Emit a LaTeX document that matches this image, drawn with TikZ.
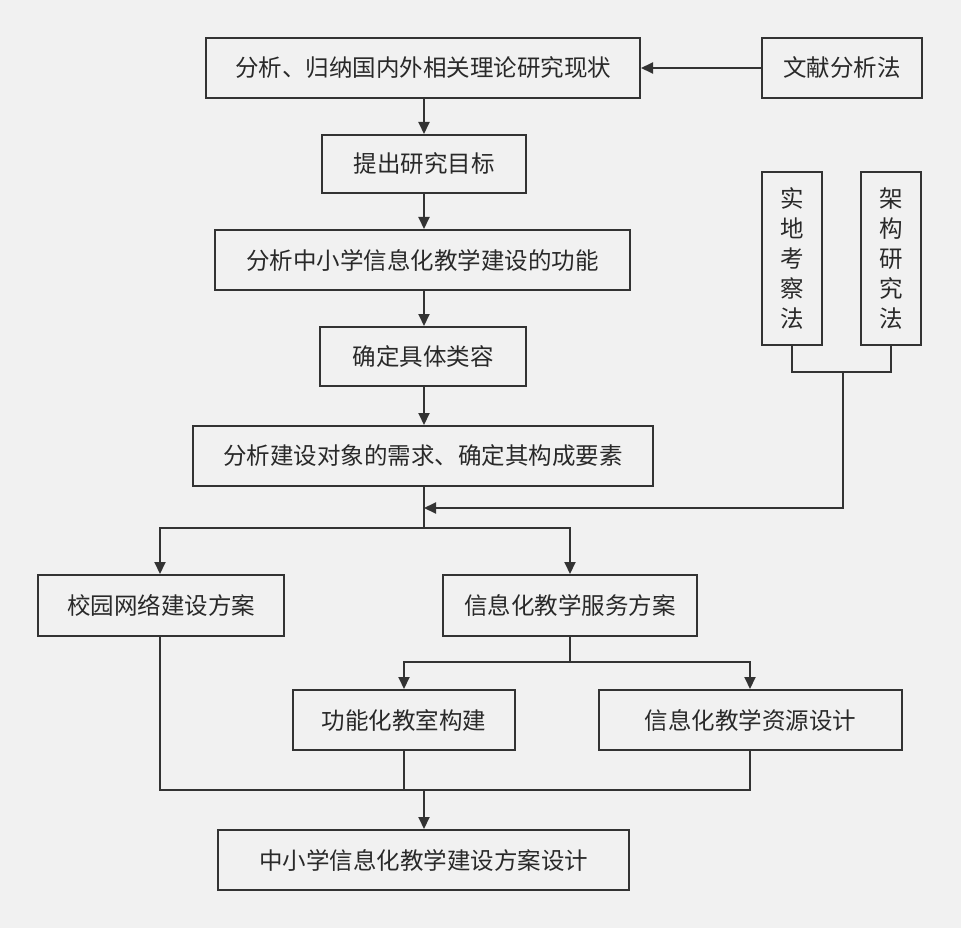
\documentclass[tikz,border=0pt]{standalone}
\usepackage{fontspec}
\setmainfont{Noto Sans CJK SC}
\usetikzlibrary{arrows.meta}
\definecolor{bg}{HTML}{F1F1F1}
\definecolor{ln}{HTML}{333333}
\begin{document}
\begin{tikzpicture}[x=1pt,y=-1pt,
  box/.style={draw=ln,line width=2pt,fill=bg,inner sep=0pt,font=\fontsize{23.5}{28}\selectfont,text=ln!80!black},
  con/.style={draw=ln,line width=2pt},
  arr/.style={con,-{Triangle[length=12pt,width=11pt]}}]
\fill[bg] (0,0) rectangle (961,928);
\useasboundingbox (0,0) rectangle (961,928);
\newcommand{\bx}[6]{\node[box,minimum width=#4-#2,minimum height=#5-#3,align=center] (#1) at ({(#2+#4)/2},{(#3+#5)/2}) {#6};}
\bx{a}{206}{38}{640}{98}{分析、归纳国内外相关理论研究现状}
\bx{b}{762}{38}{922}{98}{文献分析法}
\bx{c}{322}{135}{526}{193}{提出研究目标}
\bx{d}{215}{230}{630}{290}{分析中小学信息化教学建设的功能}
\bx{e}{320}{327}{526}{386}{确定具体类容}
\bx{f}{193}{426}{653}{486}{分析建设对象的需求、确定其构成要素}
\bx{g}{762}{172}{822}{345}{实\\[2pt]地\\[2pt]考\\[2pt]察\\[2pt]法}
\bx{h}{861}{172}{921}{345}{架\\[2pt]构\\[2pt]研\\[2pt]究\\[2pt]法}
\bx{i}{38}{575}{284}{636}{校园网络建设方案}
\bx{j}{443}{575}{697}{636}{信息化教学服务方案}
\bx{k}{293}{690}{515}{750}{功能化教室构建}
\bx{l}{599}{690}{902}{750}{信息化教学资源设计}
\bx{m}{218}{830}{629}{890}{中小学信息化教学建设方案设计}
\draw[arr] (b.west) -- (a.east);
\draw[arr] (424,98) -- (c.north -| 424,0);
\draw[arr] (c.south -| 424,0) -- (d.north -| 424,0);
\draw[arr] (d.south -| 424,0) -- (e.north -| 424,0);
\draw[arr] (e.south -| 424,0) -- (f.north -| 424,0);
\coordinate (gh) at (843,372);
\draw[con] (g.south) |- (gh) -| (h.south);
\coordinate (fj) at (424,508);
\draw[arr] (gh) |- (fj);
\coordinate (s1) at (424,528);
\draw[con] (f.south -| 424,0) -- (s1);
\draw[arr] (s1) -| (i.north -| 160,0);
\draw[arr] (s1) -| (j.north -| 570,0);
\coordinate (s2) at (570,662);
\draw[con] (j.south -| 570,0) -- (s2);
\draw[arr] (s2) -| (k.north -| 404,0);
\draw[arr] (s2) -| (l.north -| 750,0);
\coordinate (s3) at (424,790);
\draw[con] (i.south -| 160,0) |- (750,790) -- (l.south -| 750,0);
\draw[con] (k.south -| 404,0) -- (404,790);
\draw[arr] (s3) -- (m.north -| 424,0);
\end{tikzpicture}
\end{document}
